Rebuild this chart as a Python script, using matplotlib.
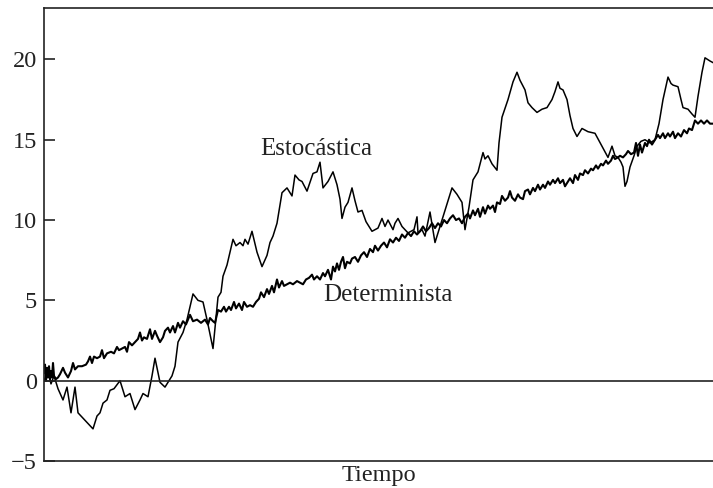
import matplotlib
matplotlib.use("Agg")
import matplotlib.pyplot as plt

# stochastic trend: (time, value)
t_sto = [0, 4, 7, 10, 14, 19, 23, 27, 31, 34, 40, 49, 53, 56, 59, 63, 66, 70, 76, 81,
         86, 91, 96, 99, 104, 108, 111, 116, 121, 126, 128, 131, 134, 139, 143, 149, 154, 159, 163, 169,
         174, 177, 179, 183, 186, 189, 192, 196, 199, 201, 204, 208, 213, 218, 223, 226, 229, 233, 238, 243,
         248, 251, 255, 258, 263, 269, 273, 276, 279, 284, 289, 293, 296, 298, 301, 304, 308, 311, 314, 318,
         322, 328, 334, 338, 341, 344, 349, 351, 354, 358, 364, 370, 373, 374, 378, 381, 386, 391, 398, 403,
         408, 413, 418, 421, 425, 429, 434, 439, 441, 444, 448, 453, 455, 458, 464, 469, 473, 476, 481, 484,
         488, 493, 498, 503, 508, 511, 514, 516, 519, 523, 526, 529, 533, 538, 544, 551, 558, 564, 568, 571,
         574, 577, 579, 581, 583, 586, 590, 593, 597, 601, 606, 611, 615, 619, 624, 627, 629, 634, 637, 639,
         644, 648, 651, 654, 658, 661, 666, 669]
y_sto = [0.0, 0.6, -0.2, 0.3, -0.5, -1.2, -0.4, -2.0, -0.4, -2.0, -2.4, -3.0, -2.2, -2.0, -1.4, -1.2, -0.6, -0.5, 0.0, -1.0,
         -0.8, -1.8, -1.2, -0.8, -1.0, 0.3, 1.4, -0.1, -0.4, 0.1, 0.3, 0.9, 2.4, 3.0, 3.8, 5.4, 5.0, 4.9, 3.8, 2.0,
         5.2, 5.5, 6.5, 7.2, 8.0, 8.8, 8.4, 8.6, 8.4, 8.8, 8.5, 9.3, 8.0, 7.1, 7.8, 8.6, 9.0, 9.8, 11.7, 12.0,
         11.5, 12.8, 12.5, 12.4, 11.8, 12.9, 13.0, 13.6, 12.0, 12.4, 13.0, 12.2, 11.3, 10.1, 10.8, 11.1, 12.0, 11.2, 10.5, 10.6,
         9.9, 9.3, 9.5, 10.1, 9.6, 10.0, 9.4, 9.8, 10.1, 9.6, 9.2, 9.4, 10.2, 9.2, 9.4, 9.0, 10.5, 8.6, 10.0, 11.0,
         12.0, 11.6, 11.1, 9.4, 10.8, 12.5, 13.0, 14.2, 13.8, 14.0, 13.5, 13.1, 14.8, 16.4, 17.5, 18.6, 19.2, 18.7, 18.1, 17.3,
         17.0, 16.7, 16.9, 17.0, 17.5, 18.0, 18.6, 18.2, 18.1, 17.5, 16.5, 15.7, 15.2, 15.7, 15.5, 15.4, 14.6, 13.9, 14.6, 14.0,
         13.9, 13.6, 13.3, 12.1, 12.4, 13.3, 14.0, 14.6, 14.9, 15.0, 14.8, 15.0, 16.0, 17.5, 18.9, 18.5, 18.4, 18.3, 17.5, 17.0,
         16.9, 16.6, 16.4, 17.7, 19.2, 20.1, 19.9, 19.8]

# deterministic trend: (time, value)
t_det = [0, 1, 2, 3, 4, 5, 6, 7, 8, 9, 10, 12, 14, 16, 19, 21, 24, 27, 29, 31,
         34, 38, 42, 44, 46, 48, 50, 53, 56, 58, 60, 63, 67, 70, 73, 75, 78, 81, 83, 85,
         88, 91, 94, 96, 98, 100, 103, 106, 108, 111, 113, 116, 119, 121, 124, 126, 129, 131, 134, 136,
         139, 142, 146, 149, 153, 157, 161, 164, 166, 169, 171, 174, 177, 180, 182, 185, 187, 190, 192, 195,
         198, 200, 203, 206, 209, 212, 215, 217, 220, 223, 225, 228, 230, 233, 235, 238, 240, 243, 246, 249,
         253, 256, 259, 262, 265, 268, 270, 273, 276, 279, 281, 284, 287, 289, 291, 293, 295, 297, 299, 301,
         303, 306, 308, 311, 314, 317, 320, 323, 326, 329, 331, 334, 337, 340, 343, 346, 349, 352, 355, 358,
         361, 364, 367, 370, 373, 376, 379, 382, 385, 388, 391, 394, 397, 400, 403, 406, 409, 412, 415, 418,
         421, 424, 426, 429, 431, 434, 436, 439, 441, 444, 446, 449, 451, 453, 456, 458, 461, 464, 466, 468,
         471, 474, 476, 479, 481, 484, 486, 489, 491, 494, 496, 499, 501, 504, 506, 509, 511, 514, 516, 519,
         521, 524, 526, 529, 531, 534, 536, 539, 541, 544, 547, 549, 552, 554, 557, 559, 562, 564, 567, 569,
         571, 574, 576, 579, 582, 584, 587, 590, 592, 594, 596, 598, 601, 603, 605, 608, 611, 614, 616, 619,
         621, 624, 626, 629, 631, 634, 637, 640, 643, 645, 648, 651, 654, 657, 660, 663, 666, 669]
y_det = [0.5, 1.0, 0.0, 0.8, 0.2, 0.9, 0.1, 0.6, 0.2, 1.1, 0.3, 0.1, 0.2, 0.4, 0.8, 0.5, 0.2, 0.6, 1.1, 0.7,
         0.9, 0.9, 1.0, 1.2, 1.5, 1.1, 1.5, 1.4, 1.5, 1.9, 1.4, 1.7, 1.8, 1.7, 2.1, 1.9, 2.0, 2.1, 1.8, 2.4,
         2.2, 2.4, 2.6, 3.0, 2.5, 2.7, 2.6, 3.2, 2.6, 3.1, 2.8, 2.4, 2.7, 3.1, 3.3, 3.0, 3.4, 3.0, 3.6, 3.3,
         3.7, 3.5, 4.1, 3.7, 3.8, 3.6, 3.8, 3.5, 3.9, 3.7, 3.6, 4.4, 4.3, 4.6, 4.3, 4.6, 4.4, 4.9, 4.5, 4.8,
         4.4, 4.9, 4.6, 4.7, 4.6, 4.9, 5.1, 5.5, 5.2, 5.7, 5.4, 5.9, 5.5, 6.3, 5.8, 6.2, 5.9, 6.0, 6.1, 6.0,
         6.2, 6.1, 6.0, 6.3, 6.4, 6.6, 6.3, 6.5, 6.3, 6.7, 6.5, 6.9, 6.3, 7.1, 6.8, 7.3, 6.9, 7.4, 7.7, 7.0,
         7.4, 7.3, 7.6, 7.7, 7.4, 7.8, 8.0, 7.7, 8.2, 8.0, 8.4, 8.1, 8.4, 8.6, 8.3, 8.8, 8.6, 8.9, 8.7, 9.1,
         8.9, 9.2, 9.0, 9.3, 9.1, 9.3, 9.6, 9.3, 9.5, 9.8, 9.5, 9.8, 9.6, 10.0, 9.8, 10.1, 10.3, 10.0, 10.1, 9.8,
         10.2, 10.4, 10.1, 10.6, 10.3, 10.7, 10.2, 10.8, 10.4, 10.9, 10.7, 10.9, 10.5, 11.1, 11.0, 11.5, 11.2, 11.4, 11.8, 11.4,
         11.2, 11.6, 11.4, 11.3, 11.8, 11.9, 11.6, 12.0, 11.8, 12.2, 11.9, 12.2, 12.0, 12.4, 12.2, 12.5, 12.3, 12.6, 12.3, 12.5,
         12.1, 12.4, 12.6, 12.3, 12.8, 12.5, 12.9, 12.8, 13.1, 12.9, 13.2, 13.1, 13.4, 13.2, 13.5, 13.4, 13.7, 13.5, 13.7, 14.0,
         13.8, 13.9, 14.0, 13.9, 14.1, 14.3, 14.1, 14.2, 14.8, 14.0, 14.7, 14.2, 14.8, 14.6, 15.0, 14.7, 15.0, 15.3, 15.1, 15.4,
         15.1, 15.4, 15.2, 15.5, 15.1, 15.4, 15.2, 15.6, 15.4, 15.7, 15.6, 16.2, 16.0, 16.2, 16.0, 16.2, 16.0, 16.0]

plt.rcParams['font.family'] = ['Liberation Serif', 'DejaVu Serif']

fig = plt.figure(figsize=(7.13, 4.88), dpi=100)
ax = fig.add_axes([44 / 713, 27 / 488, 669 / 713, 453 / 488])

ax.plot(t_det, y_det, color='black', lw=1.5)
ax.plot(t_sto, y_sto, color='black', lw=1.1)
ax.axhline(0, color='#222222', lw=1.2)

ax.set_xlim(0, 669)
ax.set_ylim(-5, 23.2)
ax.set_yticks([-5, 0, 5, 10, 15, 20])
ax.set_yticklabels(['\u22125', '0', '5', '10', '15', '20'])
ax.set_xticks([])
ax.tick_params(axis='y', direction='in', length=8, width=1.2, pad=5,
               labelsize=17.5, colors='#222222')
for side in ['left', 'top', 'bottom']:
    ax.spines[side].set_linewidth(1.2)
    ax.spines[side].set_color('#222222')
ax.spines['right'].set_visible(False)

ax.set_xlabel('Tiempo', fontsize=17.5, labelpad=3, color='#222222')
ax.text(272, 14.4, 'Estocástica', fontsize=18, ha='center', va='center', color='#222222')
ax.text(344, 5.35, 'Determinista', fontsize=18, ha='center', va='center', color='#222222')

fig.savefig('out.png', dpi=100)
